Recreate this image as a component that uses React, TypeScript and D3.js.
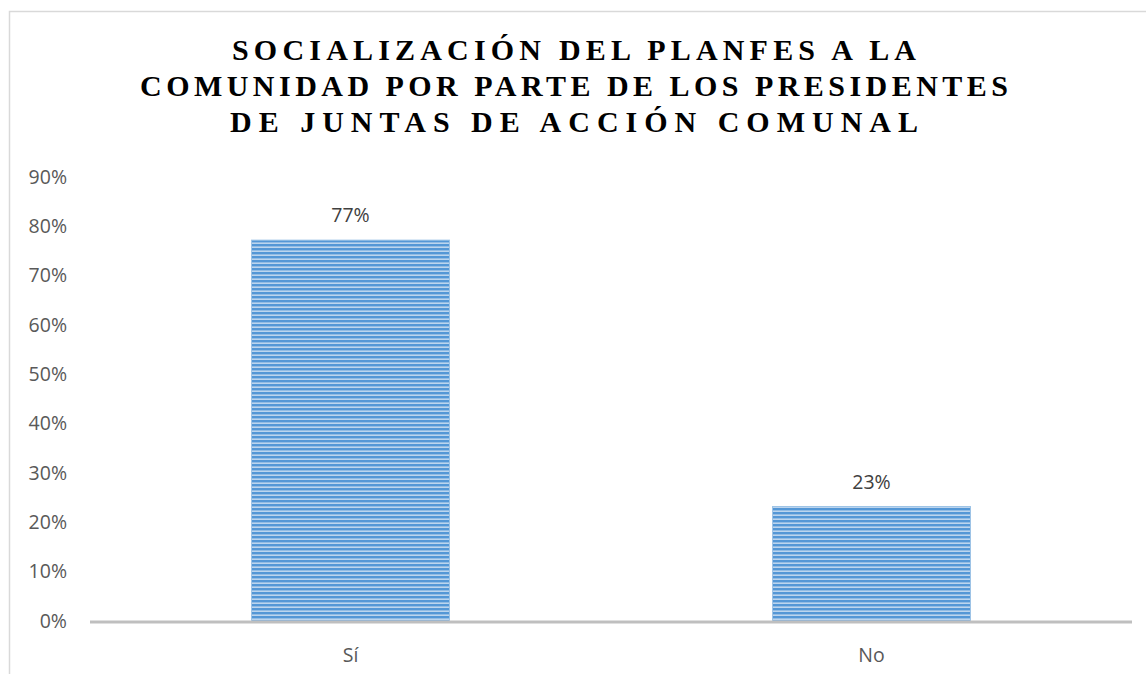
import React, { useEffect, useRef } from 'react'
import * as d3 from 'd3'

const categories = ['Sí', 'No']
const values = [0.77, 0.23]
const yTicks = [0, 0.1, 0.2, 0.3, 0.4, 0.5, 0.6, 0.7, 0.8, 0.9]
const titleLines = [
  'SOCIALIZACIÓN DEL PLANFES A LA',
  'COMUNIDAD POR PARTE DE LOS PRESIDENTES',
  'DE JUNTAS DE ACCIÓN COMUNAL',
]
// widths of the title lines as drawn in the original
const titleWidths = [684, 868, 688]

const W = 1146
const H = 674
const margin = { top: 177, right: 14, bottom: 53, left: 90 }

export default function App() {
  const ref = useRef<SVGSVGElement | null>(null)

  useEffect(() => {
    const svg = d3.select(ref.current)
    svg.selectAll('*').remove()

    const x = d3.scaleBand()
      .domain(categories)
      .range([margin.left, W - margin.right])
      .paddingInner(0.62)
      .paddingOuter(0.31)
    const y = d3.scaleLinear()
      .domain([0, 0.9])
      .range([H - margin.bottom, margin.top])

    // striped fill like the original bars
    const defs = svg.append('defs')
    const pat = defs.append('pattern')
      .attr('id', 'stripes')
      .attr('patternUnits', 'userSpaceOnUse')
      .attr('width', 8)
      .attr('height', 4)
    pat.append('rect').attr('width', 8).attr('height', 4).attr('fill', '#bcd5ee')
    pat.append('rect').attr('width', 8).attr('height', 2.4).attr('fill', '#5497d6')

    // frame
    svg.append('path')
      .attr('d', `M9.5,${H}V11.5H${W}`)
      .attr('fill', 'none')
      .attr('stroke', '#d9d9d9')
      .attr('stroke-width', 1.5)

    // title
    svg.append('g').selectAll('text')
      .data(titleLines)
      .enter().append('text')
      .attr('x', 574)
      .attr('y', (d, i) => 60 + i * 36)
      .attr('text-anchor', 'middle')
      .attr('textLength', (d, i) => titleWidths[i])
      .attr('lengthAdjust', 'spacing')
      .style('font-family', '"Liberation Serif", "Times New Roman", serif')
      .style('font-weight', 'bold')
      .style('font-size', '30px')
      .attr('fill', '#000')
      .text((d) => d)

    // y labels
    svg.append('g').selectAll('text')
      .data(yTicks)
      .enter().append('text')
      .attr('x', 67)
      .attr('y', (d) => y(d))
      .attr('dy', '0.35em')
      .attr('text-anchor', 'end')
      .style('font-family', '"Open Sans", sans-serif')
      .style('font-size', '19.5px')
      .attr('fill', '#595959')
      .text((d) => d3.format('.0%')(d))

    // bars
    const bars = svg.append('g').selectAll('g')
      .data(categories)
      .enter().append('g')
    bars.append('rect')
      .attr('x', (d) => x(d)!)
      .attr('y', (d, i) => y(values[i]) - 1)
      .attr('width', x.bandwidth())
      .attr('height', (d, i) => y(0) - y(values[i]) + 1)
      .attr('fill', 'url(#stripes)')
      .attr('stroke', '#9dc3e6')
      .attr('stroke-width', 1)

    // value labels
    bars.append('text')
      .attr('x', (d) => x(d)! + x.bandwidth() / 2)
      .attr('y', (d, i) => y(values[i]) - 19)
      .attr('text-anchor', 'middle')
      .style('font-family', '"Open Sans", sans-serif')
      .style('font-size', '19.5px')
      .attr('fill', '#404040')
      .text((d, i) => d3.format('.0%')(values[i]))

    // category labels
    bars.append('text')
      .attr('x', (d) => x(d)! + x.bandwidth() / 2)
      .attr('y', H - 12)
      .attr('text-anchor', 'middle')
      .style('font-family', '"Open Sans", sans-serif')
      .style('font-size', '19.5px')
      .attr('fill', '#595959')
      .text((d) => d)

    // baseline
    svg.append('line')
      .attr('x1', margin.left)
      .attr('x2', W - margin.right)
      .attr('y1', y(0) + 1)
      .attr('y2', y(0) + 1)
      .attr('stroke', '#bfbfbf')
      .attr('stroke-width', 3)
  }, [])

  return (
    <svg
      ref={ref}
      width={W}
      height={H}
      style={{ position: 'absolute', left: 0, top: 0, background: '#fff' }}
    />
  )
}
